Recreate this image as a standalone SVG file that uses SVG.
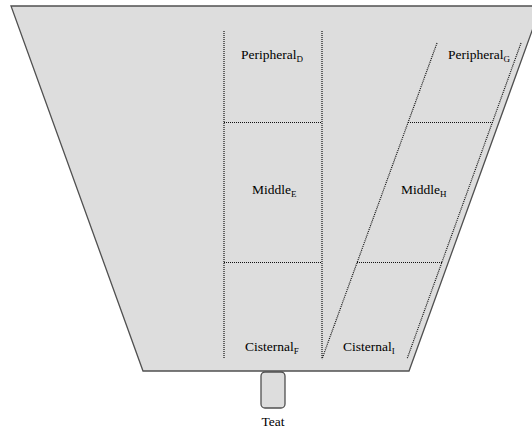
<svg xmlns="http://www.w3.org/2000/svg" width="532" height="429" viewBox="0 0 532 429">
<style>
.body{fill:#dddddd;stroke:#505050;stroke-width:1.3}
.dot{fill:none;stroke:#111;stroke-width:1.2;stroke-dasharray:1 1}
text{font-family:"Liberation Serif","Times New Roman",serif;font-size:13.5px;fill:#000}
.sub{font-size:9px}
</style>
<rect width="532" height="429" fill="#fff"/>
<g id="udder"><polygon class="body" points="11,6 541,6 409,371 143,371"/></g>
<g id="connectors">
<line class="dot" x1="224" y1="31" x2="224" y2="359"/>
<line class="dot" x1="322" y1="31" x2="322" y2="359"/>
<line class="dot" x1="224" y1="122.5" x2="322" y2="122.5"/>
<line class="dot" x1="224" y1="262.5" x2="322" y2="262.5"/>
<line class="dot" x1="437" y1="43" x2="322" y2="359"/>
<line class="dot" x1="521" y1="43" x2="407" y2="359"/>
<line class="dot" x1="408" y1="122.5" x2="493" y2="122.5"/>
<line class="dot" x1="357" y1="262.5" x2="442" y2="262.5"/>
</g>
<g id="peripheralD"><text x="241" y="59">Peripheral<tspan class="sub" dy="3">D</tspan></text></g>
<g id="peripheralG"><text x="448" y="59">Peripheral<tspan class="sub" dy="3">G</tspan></text></g>
<g id="middleE"><text x="252" y="194">Middle<tspan class="sub" dy="3">E</tspan></text></g>
<g id="middleH"><text x="401" y="194">Middle<tspan class="sub" dy="3">H</tspan></text></g>
<g id="cisternalF"><text x="245" y="351">Cisternal<tspan class="sub" dy="3">F</tspan></text></g>
<g id="cisternalI"><text x="343" y="351">Cisternal<tspan class="sub" dy="3">I</tspan></text></g>
<g id="teat"><rect x="261" y="372" width="24" height="36" rx="4" fill="#dddddd" stroke="#505050" stroke-width="1.3"/><text x="273" y="426" text-anchor="middle">Teat</text></g>
</svg>
